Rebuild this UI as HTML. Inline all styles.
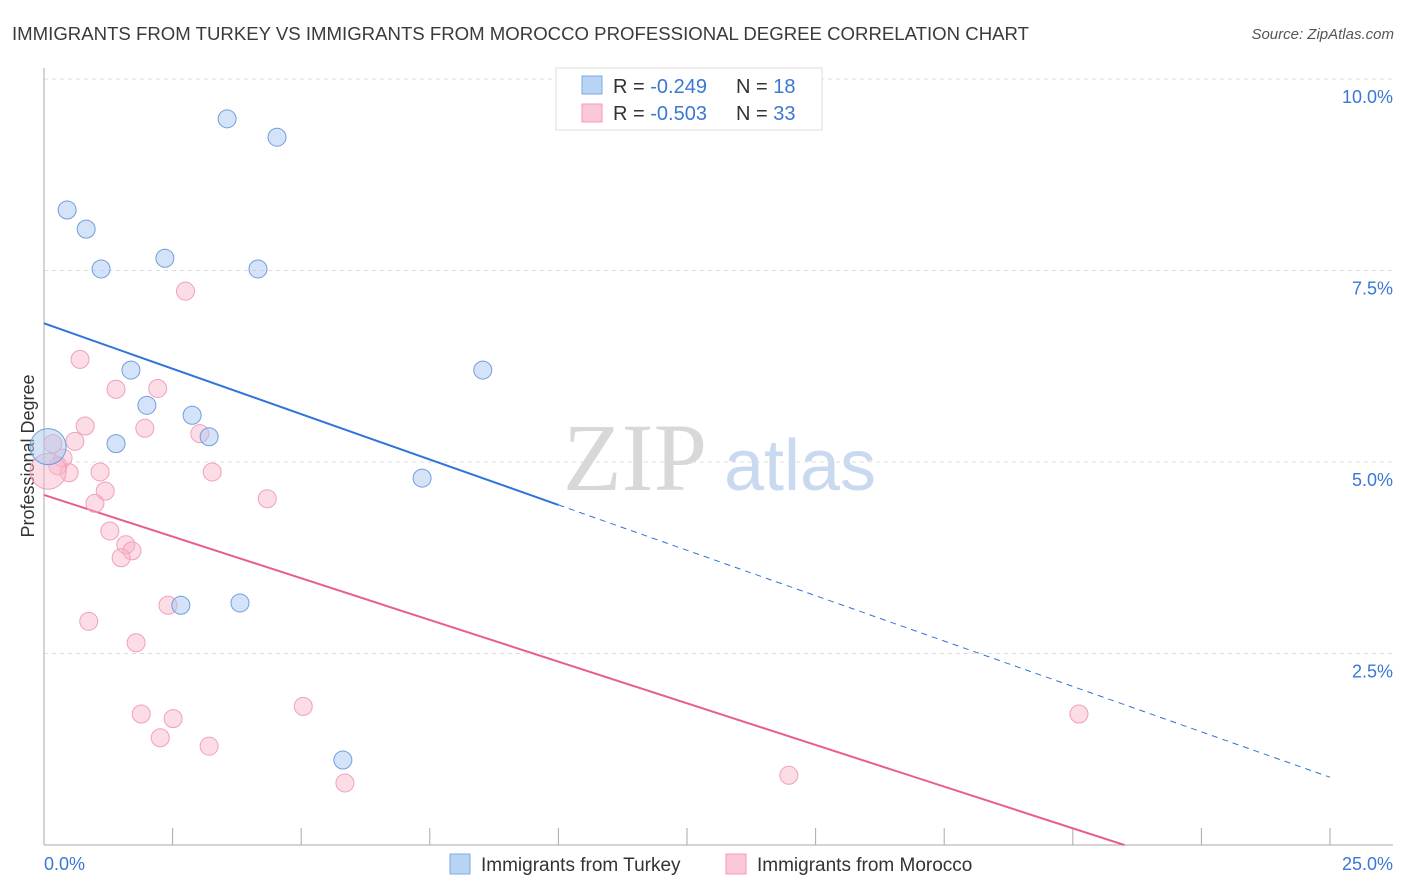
<!DOCTYPE html>
<html><head><meta charset="utf-8"><style>
body{margin:0;background:#fff;font-family:"Liberation Sans",sans-serif}
svg{display:block}
</style></head><body>
<svg id="chart" width="1406" height="892">
<text x="12" y="40" font-size="18" fill="#3a3a3a" textLength="1017" lengthAdjust="spacingAndGlyphs">IMMIGRANTS FROM TURKEY VS IMMIGRANTS FROM MOROCCO PROFESSIONAL DEGREE CORRELATION CHART</text>
<text x="1394" y="39" font-size="15" fill="#555" font-style="italic" text-anchor="end">Source: ZipAtlas.com</text>
<text x="34" y="456" font-size="18" fill="#333" text-anchor="middle" transform="rotate(-90 34 456)">Professional Degree</text>
<g><text x="635" y="490" font-size="96" fill="#d8d8d8" font-family="Liberation Serif,serif" text-anchor="middle">ZIP</text><text x="800" y="490" font-size="72" fill="#c9d9f0" text-anchor="middle">atlas</text></g>
<g id="grid"></g><g id="axes"></g><g id="lines"></g><g id="points"></g>
<g>
<rect x="556" y="68" width="266" height="62" fill="#fff" stroke="#ddd"/>
<rect x="582" y="76" width="20" height="18" fill="#b9d3f5" stroke="#7fa8e0"/>
<rect x="582" y="104" width="20" height="18" fill="#fbc8d8" stroke="#f09ab6"/>
<text x="613" y="93" font-size="20" fill="#333">R = <tspan fill="#3a78d4">-0.249</tspan><tspan x="736">N = </tspan><tspan fill="#3a78d4">18</tspan></text>
<text x="613" y="120" font-size="20" fill="#333">R = <tspan fill="#3a78d4">-0.503</tspan><tspan x="736">N = </tspan><tspan fill="#3a78d4">33</tspan></text>
</g>
<g>
<rect x="450" y="854" width="20" height="20" fill="#b9d3f5" stroke="#7fa8e0"/>
<text x="481" y="871" font-size="19" fill="#333">Immigrants from Turkey</text>
<rect x="726" y="854" width="20" height="20" fill="#fbc8d8" stroke="#f09ab6"/>
<text x="757" y="871" font-size="19" fill="#333">Immigrants from Morocco</text>
</g>
</svg>
<script>
const turkeyX=[3.56,4.53,0.45,0.82,1.11,2.35,4.16,1.69,8.53,2.00,2.88,1.40,3.21,7.35,2.66,3.81,5.81,0.08];
const turkeyY=[9.48,9.24,8.29,8.04,7.52,7.66,7.52,6.20,6.20,5.74,5.61,5.24,5.33,4.79,3.13,3.16,1.11,5.20];
const turkeyR=[9,9,9,9,9,9,9,9,9,9,9,9,9,9,9,9,9,18];
const moroccoX=[2.75,0.70,1.40,2.21,0.80,1.96,0.60,3.03,0.37,1.09,3.27,0.49,0.27,1.19,0.99,4.34,1.28,1.59,1.71,1.50,2.41,0.87,1.79,1.89,2.51,2.26,5.04,3.21,5.85,14.48,20.12,0.17,0.08];
const moroccoY=[7.23,6.34,5.95,5.96,5.47,5.44,5.27,5.37,5.05,4.87,4.87,4.86,4.95,4.62,4.46,4.52,4.10,3.92,3.84,3.75,3.13,2.92,2.64,1.71,1.65,1.40,1.81,1.29,0.81,0.91,1.71,5.24,4.88];
const moroccoR=[9,9,9,9,9,9,9,9,9,9,9,9,9,9,9,9,9,9,9,9,9,9,9,9,9,9,9,9,9,9,9,9,18];
const yTicks=[2.5,5.0,7.5,10.0];
const xTickVals=[2.5,5,7.5,10,12.5,15,17.5,20,22.5,25];
const turkeyFit=[6.81,-0.237];
const moroccoFit=[4.57,-0.2176];
const solidEnd=10.0;
const NS="http://www.w3.org/2000/svg";
const X=v=>44+v/25*1286, Y=v=>845-v*76.6;
function mk(t,a,p){const e=document.createElementNS(NS,t);for(const k in a)e.setAttribute(k,a[k]);p.appendChild(e);return e;}
const grid=document.getElementById('grid'),axes=document.getElementById('axes');
yTicks.forEach(v=>{
 const l=mk('line',{x1:44,x2:1393,y1:Y(v),y2:Y(v),stroke:'#ddd','stroke-dasharray':'4,4'},grid);
 
 
 const t=mk('text',{x:1393,y:Y(v)+24,'font-size':18,fill:'#3a78d4','text-anchor':'end'},axes);
 t.textContent=v.toFixed(1)+'%';
 
 
});
const ya=mk('line',{x1:44,x2:44,y1:68,y2:845,stroke:'#aaa'},axes);


const xa=mk('line',{x1:44,x2:1393,y1:845,y2:845,stroke:'#aaa'},axes);


xTickVals.forEach(v=>{
 const l=mk('line',{x1:X(v),x2:X(v),y1:828,y2:845,stroke:'#aaa'},axes);
 
 
});
const t0=mk('text',{x:44,y:870,'font-size':18,fill:'#3a78d4'},axes);t0.textContent='0.0%';


const t1=mk('text',{x:1393,y:870,'font-size':18,fill:'#3a78d4','text-anchor':'end'},axes);t1.textContent='25.0%';


const lines=document.getElementById('lines');
const f=(fit,x)=>fit[0]+fit[1]*x;
let bl=mk('line',{x1:X(0),y1:Y(f(turkeyFit,0)),x2:X(solidEnd),y2:Y(f(turkeyFit,solidEnd)),stroke:'#2f74d8','stroke-width':2},lines);


let bd=mk('line',{x1:X(solidEnd),y1:Y(f(turkeyFit,solidEnd)),x2:X(25),y2:Y(f(turkeyFit,25)),stroke:'#2f74d8','stroke-width':1,'stroke-dasharray':'6,5'},lines);


const mx0=Math.min(25,-moroccoFit[0]/moroccoFit[1]);
let pl=mk('line',{x1:X(0),y1:Y(f(moroccoFit,0)),x2:X(mx0),y2:Y(f(moroccoFit,mx0)),stroke:'#e8608a','stroke-width':2},lines);


const pts=document.getElementById('points');
moroccoX.forEach((x,i)=>{
 const c=mk('circle',{cx:X(x),cy:Y(moroccoY[i]),r:moroccoR[i],fill:'rgba(248,180,200,0.45)',stroke:'#f0a0bb','stroke-width':1},pts);
 
 
});
turkeyX.forEach((x,i)=>{
 const c=mk('circle',{cx:X(x),cy:Y(turkeyY[i]),r:turkeyR[i],fill:'rgba(170,200,240,0.5)',stroke:'#6f9fdc','stroke-width':1},pts);
 
 
});
</script>
</body></html>
